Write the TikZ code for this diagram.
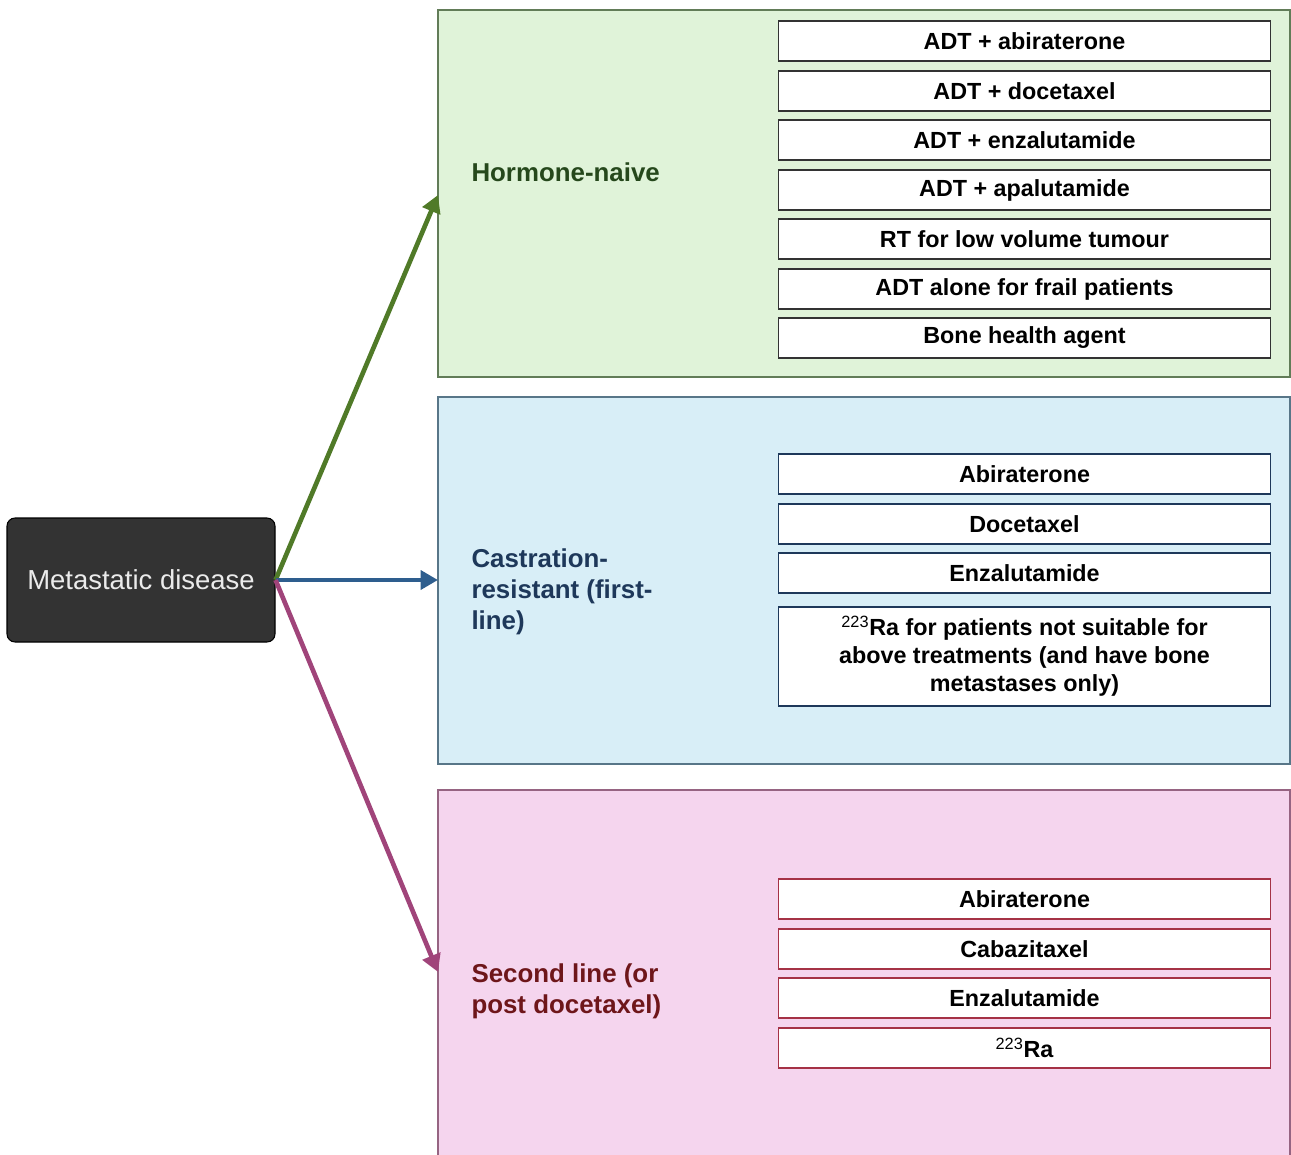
\documentclass[tikz,border=0pt]{standalone}
\usepackage{fontspec}
\setmainfont{Liberation Sans}
\usetikzlibrary{arrows.meta}

\definecolor{hnFill}{RGB}{224,243,217}
\definecolor{hnDraw}{RGB}{98,124,88}
\definecolor{hnText}{RGB}{38,72,28}
\definecolor{hnArrow}{RGB}{80,122,40}
\definecolor{crFill}{RGB}{216,238,247}
\definecolor{crDraw}{RGB}{88,118,136}
\definecolor{crText}{RGB}{30,56,90}
\definecolor{crArrow}{RGB}{46,94,142}
\definecolor{slFill}{RGB}{245,213,238}
\definecolor{slDraw}{RGB}{150,100,130}
\definecolor{slText}{RGB}{110,22,26}
\definecolor{slArrow}{RGB}{160,68,122}
\definecolor{slItem}{RGB}{165,50,70}
\definecolor{metaFill}{RGB}{51,51,51}

\tikzset{every picture/.style={line width=0.75pt}}

\begin{document}
\begin{tikzpicture}[x=0.75pt,y=0.75pt,yscale=-1,xscale=1,
	item/.style={draw, fill=white, line width=1.1pt, minimum width=369pt, minimum height=30pt, inner sep=0pt, align=center, font=\fontsize{17.5}{21}\selectfont\bfseries},
	group/.style={anchor=west, align=left, inner sep=0pt, font=\fontsize{19.4}{23.3}\selectfont\bfseries},
	branch/.style={line width=3.5pt, -{Triangle[length=13pt,width=14pt]}}]
	\useasboundingbox (0,0) rectangle (1291,1155);

	%Shape: Rectangle [Hormone-naive]
	\draw [draw=hnDraw, fill=hnFill, line width=1.3pt] (438,10) rectangle (1290,377);
	%Shape: Rectangle [Castration-resistant]
	\draw [draw=crDraw, fill=crFill, line width=1.3pt] (438,397) rectangle (1290,764);
	%Shape: Rectangle [Second line]
	\draw [draw=slDraw, fill=slFill, line width=1.3pt] (438,790) rectangle (1290,1162);

	% Text Node
	\node [draw=black, fill=metaFill, rounded corners=6pt, line width=0.8pt, minimum width=201pt, minimum height=93pt, text=white!92!black, font=\fontsize{20.6}{24}\selectfont] (meta) at (141,580) {Metastatic disease};

	% Text Node
	\node [group, text=hnText] (hn) at (471,172) {Hormone-naive};
	% Text Node
	\node [group, text=crText] (cr) at (471,592) {Castration-\\resistant (first-\\line)};
	% Text Node
	\node [group, text=slText] (sl) at (471,991) {Second line (or\\post docetaxel)};

	% Text Node
	\node [item, draw=black!80] (hn1) at (1024.5,41) {ADT + abiraterone};
	\node [item, draw=black!80] (hn2) at (1024.5,91) {ADT + docetaxel};
	\node [item, draw=black!80] (hn3) at (1024.5,140) {ADT + enzalutamide};
	\node [item, draw=black!80] (hn4) at (1024.5,190) {ADT + apalutamide};
	\node [item, draw=black!80] (hn5) at (1024.5,239) {RT for low volume tumour};
	\node [item, draw=black!80] (hn6) at (1024.5,289) {ADT alone for frail patients};
	\node [item, draw=black!80] (hn7) at (1024.5,338) {Bone health agent};

	% Text Node
	\node [item, draw=crText] (cr1) at (1024.5,474) {Abiraterone};
	\node [item, draw=crText] (cr2) at (1024.5,524) {Docetaxel};
	\node [item, draw=crText] (cr3) at (1024.5,573) {Enzalutamide};
	\node [item, draw=crText, minimum height=74pt] (cr4) at (1024.5,656.5) {{\mdseries\textsuperscript{223}}Ra for patients not suitable for\\above treatments (and have bone\\metastases only)};

	% Text Node
	\node [item, draw=slItem] (sl1) at (1024.5,899) {Abiraterone};
	\node [item, draw=slItem] (sl2) at (1024.5,949) {Cabazitaxel};
	\node [item, draw=slItem] (sl3) at (1024.5,998) {Enzalutamide};
	\node [item, draw=slItem] (sl4) at (1024.5,1048) {{\mdseries\textsuperscript{223}}Ra};

	%Arrow ends on the group boxes
	\coordinate (hnIn) at (438,195);
	\coordinate (crIn) at (438,580);
	\coordinate (slIn) at (438,972);

	%Straight Lines
	\draw [branch, hnArrow] (meta.east) -- (hnIn);
	\draw [branch, crArrow] (meta.east) -- (crIn);
	\draw [branch, slArrow] (meta.east) -- (slIn);

\end{tikzpicture}
\end{document}
